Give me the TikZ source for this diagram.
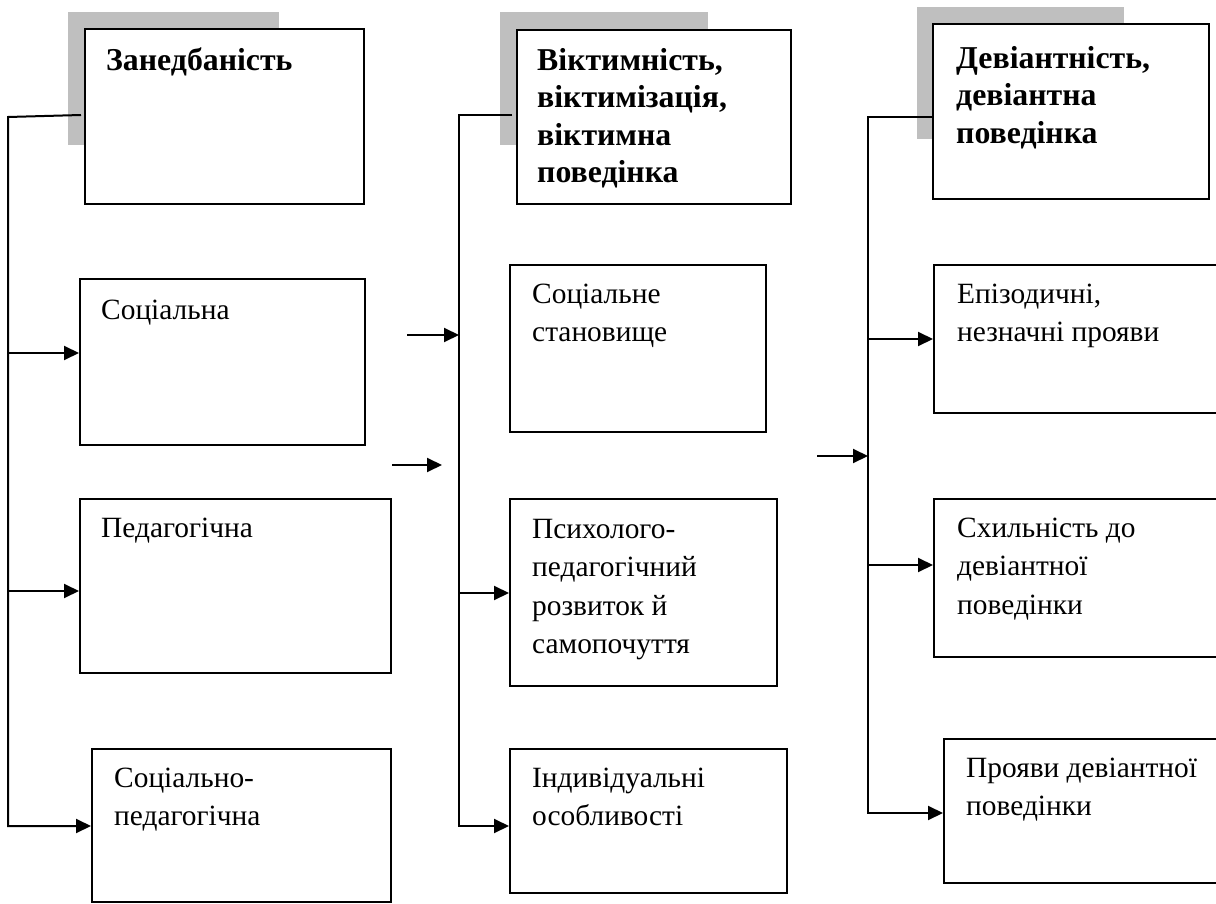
\documentclass[tikz,border=0pt]{standalone}
\usepackage{fontspec}
\setmainfont{Liberation Serif}
\usetikzlibrary{arrows.meta}
\definecolor{shadegray}{RGB}{191,191,191}
\tikzset{
  boxnode/.style={draw=black, line width=2pt, rectangle, inner sep=0pt, fill=white},
  graynode/.style={fill=shadegray, draw=none, rectangle, inner sep=0pt},
  txt/.style={anchor=north west, inner sep=0pt, align=left, font=\fontsize{29.4}{38.5}\selectfont},
  headtxt/.style={anchor=north west, inner sep=0pt, align=left, font=\fontsize{31.8}{37.5}\selectfont\bfseries},
  ln/.style={line width=2pt, line join=miter},
  arr/.style={line width=2pt, line join=miter, -{Triangle[length=15pt,width=14pt]}}
}
\begin{document}
\begin{tikzpicture}[x=1pt,y=-1pt]
\useasboundingbox (0,0) rectangle (1216,904);
\clip (0,0) rectangle (1216,904);
\fill[white] (0,0) rectangle (1216,904);

% ---------- column 1 ----------
\node[graynode, minimum width=211pt, minimum height=133pt] (G1) at (173.5,78.5) {};
\node[boxnode, minimum width=279pt, minimum height=175pt] (H1) at (224.5,116.5) {};
\node[headtxt] (H1t) at (106,44) {\strut Занедбаність};

\node[boxnode, minimum width=285pt, minimum height=166pt] (B11) at (222.5,362) {};
\node[txt] (B11t) at (101,292) {\strut Соціальна};
\node[boxnode, minimum width=311pt, minimum height=174pt] (B12) at (235.5,586) {};
\node[txt] (B12t) at (101,510) {\strut Педагогічна};
\node[boxnode, minimum width=299pt, minimum height=153pt] (B13) at (241.5,825.5) {};
\node[txt] (B13t) at (114,760) {\strut Соціально-\\педагогічна};

\coordinate (h1hook) at (81,115);
\coordinate (t1) at (8,117);
\coordinate (j11) at (8,353);
\coordinate (j12) at (8,591);
\coordinate (j13) at (8,826);
\draw[arr] (h1hook) -- (t1) -- (j13) -- (j13 -| B13.west);
\draw[arr] (j11) -- (j11 -| B11.west);
\draw[arr] (j12) -- (j12 -| B12.west);

% ---------- column 2 ----------
\node[graynode, minimum width=208pt, minimum height=133pt] (G2) at (604,78.5) {};
\node[boxnode, minimum width=274pt, minimum height=174pt] (H2) at (654,117) {};
\node[headtxt] (H2t) at (537,44) {\strut Віктимність,\\віктимізація,\\віктимна\\поведінка};

\node[boxnode, minimum width=256pt, minimum height=167pt] (B21) at (638,348.5) {};
\node[txt] (B21t) at (532,276) {\strut Соціальне\\становище};
\node[boxnode, minimum width=267pt, minimum height=187pt] (B22) at (643.5,592.5) {};
\node[txt] (B22t) at (532,511) {\strut Психолого-\\педагогічний\\розвиток й\\самопочуття};
\node[boxnode, minimum width=277pt, minimum height=144pt] (B23) at (648.5,821) {};
\node[txt] (B23t) at (532,760) {\strut Індивідуальні\\особливості};

\coordinate (h2hook) at (512,115);
\coordinate (t2) at (459,115);
\coordinate (j21) at (459,335);
\coordinate (j22) at (459,593);
\coordinate (j23) at (459,826);
\coordinate (in21) at (407,335);
\coordinate (in22s) at (392,465);
\coordinate (in22e) at (442,465);
\draw[arr] (h2hook) -- (t2) -- (j23) -- (j23 -| B23.west);
\draw[arr] (j22) -- (j22 -| B22.west);
\draw[arr] (in21) -- (j21);
\draw[arr] (in22s) -- (in22e);

% ---------- column 3 ----------
\node[graynode, minimum width=207pt, minimum height=132pt] (G3) at (1020.5,73) {};
\node[boxnode, minimum width=276pt, minimum height=175pt] (H3) at (1071,111.5) {};
\node[headtxt] (H3t) at (956,42) {\strut Девіантність,\\девіантна\\поведінка};

\node[boxnode, minimum width=291pt, minimum height=148pt] (B31) at (1079.5,339) {};
\node[txt] (B31t) at (957,276) {\strut Епізодичні,\\незначні прояви};
\node[boxnode, minimum width=291pt, minimum height=158pt] (B32) at (1079.5,578) {};
\node[txt] (B32t) at (957,510) {\strut Схильність до\\девіантної\\поведінки};
\node[boxnode, minimum width=281pt, minimum height=144pt] (B33) at (1084.5,811) {};
\node[txt] (B33t) at (966,750) {\strut Прояви девіантної\\поведінки};

\coordinate (t3) at (868,117);
\coordinate (j31) at (868,339);
\coordinate (j32) at (868,565);
\coordinate (j33) at (868,813);
\coordinate (in31) at (817,456);
\coordinate (j3in) at (868,456);
\draw[arr] (H3.west |- t3) -- (t3) -- (j33) -- (j33 -| B33.west);
\draw[arr] (j31) -- (j31 -| B31.west);
\draw[arr] (j32) -- (j32 -| B32.west);
\draw[arr] (in31) -- (j3in);
\end{tikzpicture}
\end{document}
